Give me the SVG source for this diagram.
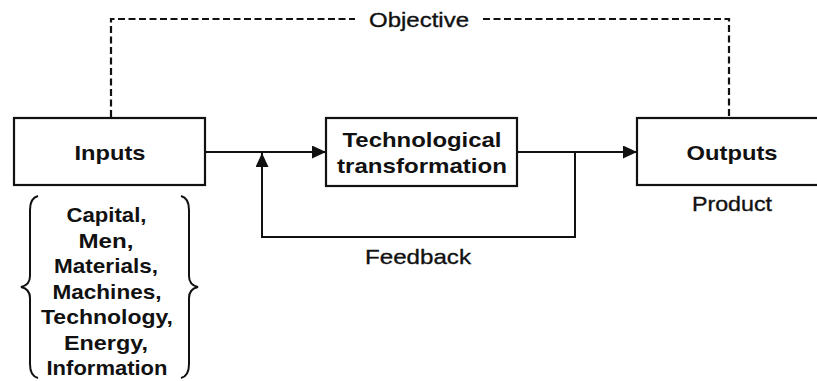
<svg xmlns="http://www.w3.org/2000/svg" width="817" height="381" viewBox="0 0 817 381">
<defs>
<style>
.box{fill:#fff;stroke:#111;stroke-width:2.2}
.ln{fill:none;stroke:#111;stroke-width:2}
.dash{fill:none;stroke:#111;stroke-width:2.2;stroke-dasharray:7 3.5}
.b{font-family:"Liberation Sans",Arial,sans-serif;font-weight:bold;font-size:21px;fill:#111;text-anchor:middle}
.r{font-family:"Liberation Sans",Arial,sans-serif;font-size:21px;fill:#111;text-anchor:middle;stroke:#111;stroke-width:0.35}
</style>
<marker id="ah" markerWidth="14" markerHeight="13" viewBox="0 0 14 13" refX="14" refY="6.5" orient="auto" markerUnits="userSpaceOnUse">
<path d="M0,0 L14,6.5 L0,13 Z" fill="#111"/>
</marker>
</defs>
<rect width="817" height="381" fill="#fff"/>
<g id="connectors">
<path class="dash" d="M111,117 V19 H355"/>
<path class="dash" d="M483,19 H729 V117"/>
<path class="ln" d="M205,152 H326" marker-end="url(#ah)"/>
<path class="ln" d="M517,152 H637" marker-end="url(#ah)"/>
<path class="ln" d="M575,152 V237 H262 V153" marker-end="url(#ah)"/>
</g>
<g id="objective"><text class="r" x="419" y="27" textLength="100" lengthAdjust="spacingAndGlyphs">Objective</text></g>
<g id="inputs">
<rect class="box" x="14" y="118" width="191" height="67"/>
<text class="b" x="110" y="160" textLength="71" lengthAdjust="spacingAndGlyphs">Inputs</text>
</g>
<g id="tech">
<rect class="box" x="326" y="118" width="191" height="68"/>
<text class="b" x="422" y="147" textLength="159" lengthAdjust="spacingAndGlyphs">Technological</text>
<text class="b" x="422" y="173" textLength="170" lengthAdjust="spacingAndGlyphs">transformation</text>
</g>
<g id="outputs">
<rect class="box" x="637" y="118" width="195" height="67"/>
<text class="b" x="732" y="160" textLength="91" lengthAdjust="spacingAndGlyphs">Outputs</text>
<text class="r" x="732" y="211" textLength="80" lengthAdjust="spacingAndGlyphs">Product</text>
</g>
<g id="feedback"><text class="r" x="418" y="264" textLength="106" lengthAdjust="spacingAndGlyphs">Feedback</text></g>
<g id="input-list">
<path class="ln" d="M38,196 Q30,198 30,210 L30,276 Q30,285 21,287 Q30,289 30,298 L30,364 Q30,376 38,378"/>
<path class="ln" d="M181,196 Q189,198 189,210 L189,276 Q189,285 198,287 Q189,289 189,298 L189,364 Q189,376 181,378"/>
<text class="b" x="106.5" y="222" textLength="80" lengthAdjust="spacingAndGlyphs">Capital,</text>
<text class="b" x="106" y="247.5" textLength="55" lengthAdjust="spacingAndGlyphs">Men,</text>
<text class="b" x="106" y="273" textLength="104" lengthAdjust="spacingAndGlyphs">Materials,</text>
<text class="b" x="107" y="298.5" textLength="109" lengthAdjust="spacingAndGlyphs">Machines,</text>
<text class="b" x="107" y="324" textLength="132" lengthAdjust="spacingAndGlyphs">Technology,</text>
<text class="b" x="106" y="349.5" textLength="84" lengthAdjust="spacingAndGlyphs">Energy,</text>
<text class="b" x="107" y="375" textLength="121" lengthAdjust="spacingAndGlyphs">Information</text>
</g>
</svg>
